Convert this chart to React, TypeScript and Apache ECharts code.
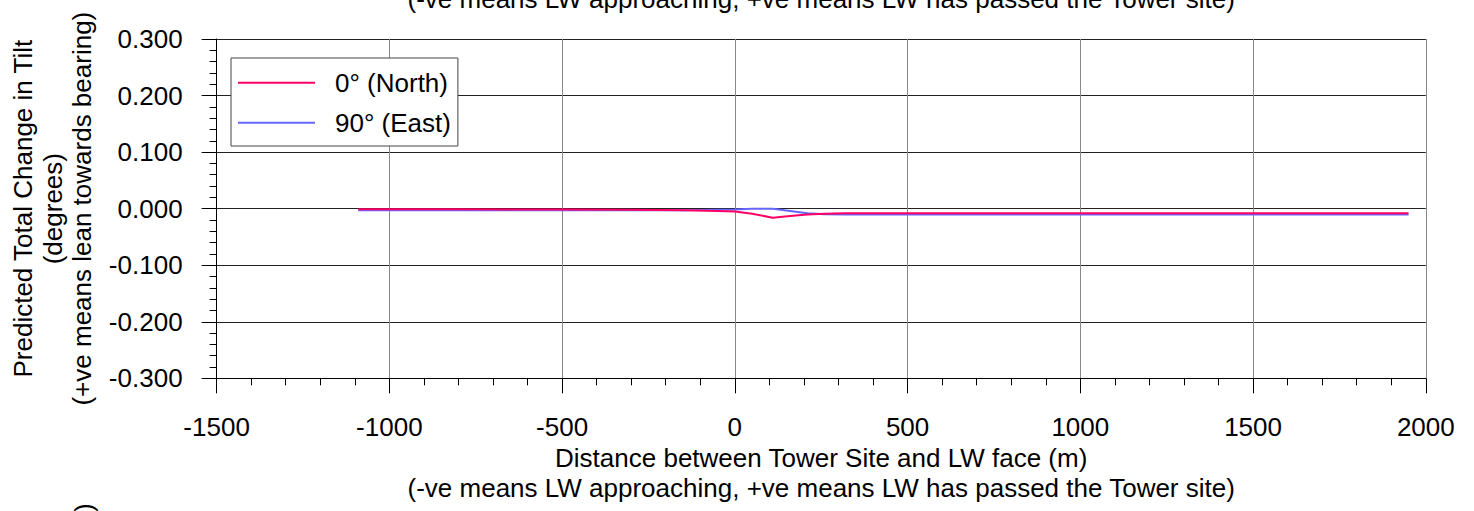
import React, { useEffect, useRef } from "react";
import * as echarts from "echarts";

// Distance between Tower Site and LW face (m)
const distanceM = [-1090, -800, -500, -300, -150, -50, 0, 50, 110, 160, 210, 260, 320, 400, 700, 1000, 1300, 1600, 1950];
// Predicted total change in tilt (degrees), bearing 0° (North)
const northTilt = [-0.001, -0.0012, -0.0015, -0.002, -0.003, -0.004, -0.005, -0.009, -0.016, -0.013, -0.0105, -0.009, -0.008, -0.008, -0.008, -0.008, -0.008, -0.008, -0.008];
// Predicted total change in tilt (degrees), bearing 90° (East)
const eastTilt = [-0.003, -0.003, -0.003, -0.003, -0.003, -0.002, -0.0015, 0.0, 0.0, -0.004, -0.008, -0.01, -0.0105, -0.0105, -0.0105, -0.0105, -0.0105, -0.0105, -0.0105];

const seriesNames = ["0° (North)", "90° (East)"];
const seriesColors = ["#ff0066", "#6666ff"];

const xTitle1 = "Distance between Tower Site and LW face (m)";
const xTitle2 = "(-ve means LW approaching, +ve means LW has passed the Tower site)";
const yTitle1 = "Predicted Total Change in Tilt";
const yTitle2 = "(degrees)";
const yTitle3 = "(+ve means lean towards bearing)";

const FONT = "'Liberation Sans', Arial, sans-serif";
const FS = 26;

function txt(text: string, x: number, y: number, rotation = 0) {
  return {
    type: "text",
    x,
    y,
    rotation,
    silent: true,
    style: {
      text,
      fill: "#000",
      fontSize: FS,
      fontFamily: FONT,
      align: "center",
      verticalAlign: "middle",
      textAlign: "center",
      textVerticalAlign: "middle",
    },
  };
}

export default function App() {
  const ref = useRef<HTMLDivElement>(null);
  useEffect(() => {
    if (!ref.current) return;
    const chart = echarts.init(ref.current, null, { renderer: "svg" });
    const gridLeft = 216.6;
    const gridRight = 1474 - 1425.8;
    const gridTop = 39;
    const gridBottom = 511 - 378.3;
    const plotCenterX = (216.6 + 1425.8) / 2;
    const plotCenterY = (39 + 378.3) / 2;
    chart.setOption({
      animation: false,
      backgroundColor: "#fff",
      textStyle: { fontFamily: FONT, color: "#000" },
      grid: { left: gridLeft, right: gridRight, top: gridTop, bottom: gridBottom, containLabel: false },
      legend: {
        data: seriesNames,
        orient: "vertical",
        left: 231,
        top: 58,
        itemWidth: 77,
        itemHeight: 2,
        itemGap: 10,
        icon: "rect",
        padding: [9.7, 7, 8.3, 7],
        backgroundColor: "#fff",
        borderColor: "#444",
        borderWidth: 1,
        borderRadius: 0,
        textStyle: { fontSize: FS, fontFamily: FONT, color: "#000", lineHeight: 30, padding: [0, 0, 0, 15] },
      },
      xAxis: {
        type: "value",
        min: -1500,
        max: 2000,
        interval: 500,
        axisLine: { show: true, onZero: false, lineStyle: { color: "#000", width: 1 } },
        axisTick: { show: true, length: 15, lineStyle: { color: "#000" } },
        minorTick: { show: true, splitNumber: 5, length: 7, lineStyle: { color: "#000" } },
        splitLine: { show: true, lineStyle: { color: "#888", width: 1 } },
        axisLabel: {
          fontSize: FS,
          fontFamily: FONT,
          color: "#000",
          margin: 36,
          formatter: (v: number) => String(v),
        },
      },
      yAxis: {
        type: "value",
        min: -0.3,
        max: 0.3,
        interval: 0.1,
        axisLine: { show: true, onZero: false, lineStyle: { color: "#000", width: 1 } },
        axisTick: { show: true, length: 15, lineStyle: { color: "#000" } },
        minorTick: { show: true, splitNumber: 5, length: 7, lineStyle: { color: "#000" } },
        splitLine: { show: true, lineStyle: { color: "#222", width: 1 } },
        axisLabel: {
          fontSize: FS,
          fontFamily: FONT,
          color: "#000",
          margin: 34,
          formatter: (v: number) => (Math.abs(v) < 1e-9 ? 0 : v).toFixed(3),
        },
      },
      series: [
        {
          name: seriesNames[1],
          type: "line",
          symbol: "none",
          showSymbol: false,
          color: seriesColors[1],
          lineStyle: { width: 2, color: seriesColors[1] },
          data: distanceM.map((d, i) => [d, eastTilt[i]]),
        },
        {
          name: seriesNames[0],
          type: "line",
          symbol: "none",
          showSymbol: false,
          color: seriesColors[0],
          lineStyle: { width: 2, color: seriesColors[0] },
          data: distanceM.map((d, i) => [d, northTilt[i]]),
        },
      ],
      graphic: [
        txt(xTitle2, plotCenterX, -1.5),
        txt(xTitle1, plotCenterX, 457.7),
        txt(xTitle2, plotCenterX, 487.7),
        txt(yTitle1, 23, plotCenterY, Math.PI / 2),
        txt(yTitle2, 52.5, plotCenterY, Math.PI / 2),
        txt(yTitle3, 82, plotCenterY, Math.PI / 2),
        {
          type: "text",
          x: 84,
          y: 512,
          rotation: Math.PI / 2,
          silent: true,
          style: { text: ")", fill: "#000", fontSize: FS, fontFamily: FONT, align: "left", verticalAlign: "middle", textAlign: "left", textVerticalAlign: "middle" },
        },
      ],
    });
    return () => chart.dispose();
  }, []);
  return (
    <div
      ref={ref}
      style={{ position: "fixed", left: 0, top: 0, width: 1474, height: 511, background: "#fff" }}
    />
  );
}
